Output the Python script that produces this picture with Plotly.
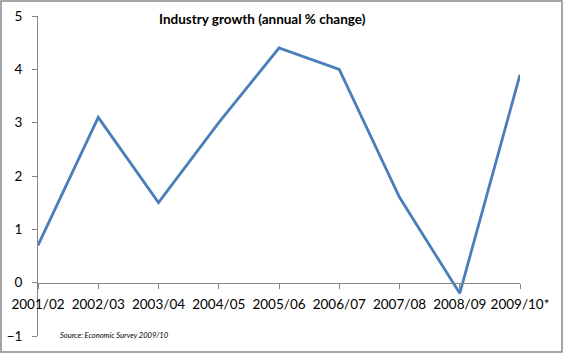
import plotly.graph_objects as go

categories = ["2001/02", "2002/03", "2003/04", "2004/05", "2005/06",
              "2006/07", "2007/08", "2008/09", "2009/10*"]
growth = [0.7, 3.1, 1.5, 3.0, 4.4, 4.0, 1.6, -0.2, 3.9]
y_ticks = [-1, 0, 1, 2, 3, 4, 5]

W, H = 564, 354
ML, MR, MT, MB = 38, 44, 16, 18
pw, ph = W - ML - MR, H - MT - MB

def px_x(x):
    return (x - ML) / pw

def px_y(y):
    return (H - MB - y) / ph

fig = go.Figure()
fig.add_trace(go.Scatter(
    x=categories, y=growth, mode="lines",
    line=dict(color="#4A7EBB", width=2.8),
    showlegend=False, hoverinfo="skip",
))

axis_col = "#868686"
font_family = "Lato, 'Open Sans', sans-serif"

fig.update_layout(
    width=W, height=H,
    margin=dict(l=ML, r=MR, t=MT, b=MB),
    paper_bgcolor="white", plot_bgcolor="white",
    font=dict(family=font_family, size=13, color="#000000"),
    xaxis=dict(
        type="category", range=[0, len(categories) - 1],
        showgrid=False, zeroline=False, automargin=False,
        showline=True, linecolor=axis_col, linewidth=1,
        ticks="outside", ticklen=5, tickcolor=axis_col,
        anchor="free", position=1 / 6,
        ticklabelstandoff=4,
        tickfont=dict(size=13.5),
    ),
    yaxis=dict(
        range=[-1, 5], tickvals=y_ticks,
        showgrid=False, zeroline=False, automargin=False,
        showline=True, linecolor=axis_col, linewidth=1,
        ticks="outside", ticklen=5, tickcolor=axis_col,
        ticklabelstandoff=7,
        tickfont=dict(size=13.5),
    ),
    shapes=[dict(
        type="rect", xref="paper", yref="paper",
        x0=px_x(1), x1=px_x(562), y0=px_y(352), y1=px_y(1),
        line=dict(color="#888888", width=1.5), fillcolor="rgba(0,0,0,0)",
        layer="below",
    )],
    annotations=[
        dict(text="<b>Industry growth (annual % change)</b>",
             xref="paper", yref="paper", x=px_x(262), y=px_y(19),
             xanchor="center", yanchor="middle", showarrow=False,
             font=dict(size=13.5, family=font_family)),
        dict(text="<i>Source: Economic Survey 2009/10</i>",
             xref="paper", yref="paper", x=px_x(58), y=px_y(335),
             xanchor="left", yanchor="middle", showarrow=False,
             font=dict(size=7.5, family=font_family)),
    ],
)

fig.write_html("out.html")
